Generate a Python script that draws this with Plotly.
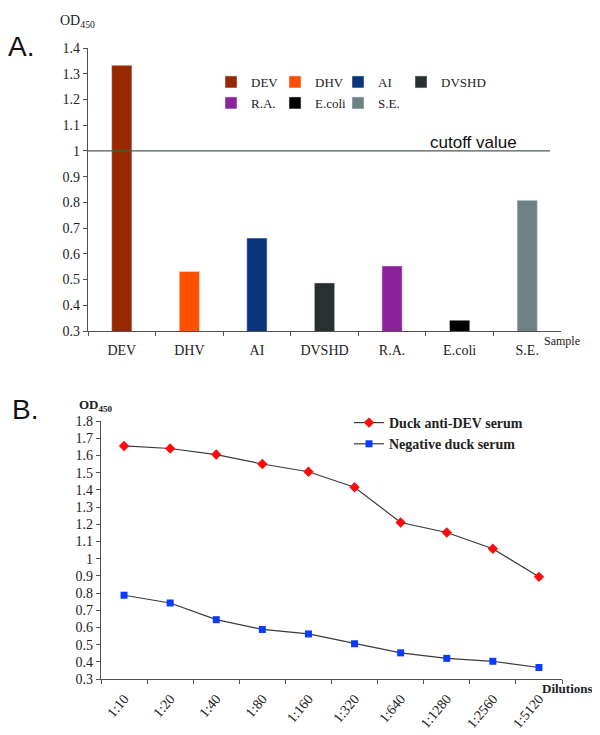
import plotly.graph_objects as go

# panel A data
samples = ['DEV', 'DHV', 'AI', 'DVSHD', 'R.A.', 'E.coli', 'S.E.']
od_samples = [1.333, 0.531, 0.661, 0.487, 0.553, 0.342, 0.808]
sample_colors = ['#962900', '#FF5000', '#0A357A', '#2A2F30', '#8E229E', '#000000', '#6E8285']
cutoff = 1.0

# panel B data
dilutions = ['1:10', '1:20', '1:40', '1:80', '1:160', '1:320', '1:640', '1:1280', '1:2560', '1:5120']
od_dev_serum = [1.655, 1.640, 1.605, 1.550, 1.505, 1.415, 1.210, 1.152, 1.057, 0.894]
od_neg_serum = [0.787, 0.742, 0.645, 0.588, 0.562, 0.505, 0.452, 0.420, 0.403, 0.367]

# the page body has an 8px margin, so the figure is drawn 8px smaller and shifted
OFF = 8
W, H = 600 - OFF, 735 - OFF
SERIF = 'Liberation Serif'
SANS = 'Liberation Sans'


def px(x):
    return (x - OFF) / W


def py(y):
    return 1 - (y - OFF) / H


fig = go.Figure()

# legend slots for the bar legend (two rows, like the original)
legend_pos = [(211, 67), (275, 67), (338, 67), (401, 67),
              (211, 88), (275, 88), (338, 88)]
legend_cfg = {}
for i, (s, v, c) in enumerate(zip(samples, od_samples, sample_colors)):
    lid = 'legend' if i == 0 else 'legend%d' % (i + 1)
    fig.add_trace(go.Bar(
        x=[s], y=[v], name=s, marker_color=c, width=0.3,
        xaxis='x', yaxis='y', legend=lid, showlegend=True,
    ))
    lx, ly = legend_pos[i]
    legend_cfg[lid] = dict(x=px(lx), y=py(ly), xanchor='left', yanchor='top',
                           bgcolor='rgba(0,0,0,0)', itemwidth=30,
                           font=dict(family=SERIF, size=13, color='#222'))

fig.add_trace(go.Scatter(
    x=dilutions, y=od_dev_serum, name='Duck anti-DEV serum',
    mode='lines+markers', xaxis='x2', yaxis='y2', legend='legend8',
    line=dict(color='#3a3a3a', width=1.2),
    marker=dict(symbol='diamond', size=8, color='#FF0A0A'),
))
fig.add_trace(go.Scatter(
    x=dilutions, y=od_neg_serum, name='Negative duck serum',
    mode='lines+markers', xaxis='x2', yaxis='y2', legend='legend8',
    line=dict(color='#3a3a3a', width=1.2),
    marker=dict(symbol='square', size=7, color='#0A3CFF'),
))
legend_cfg['legend8'] = dict(orientation='v', x=px(349), y=py(407), xanchor='left', yanchor='top',
                             bgcolor='rgba(0,0,0,0)', tracegroupgap=4, itemwidth=30,
                             font=dict(family=SERIF, size=14, color='#222', weight='bold'))

axis_common = dict(showline=True, linecolor='#505050', linewidth=1.2,
                   ticks='outside', ticklen=4, tickcolor='#505050',
                   showgrid=False, zeroline=False,
                   tickfont=dict(family=SERIF, size=14, color='#222'))

fig.update_layout(
    width=W, height=H,
    showlegend=True,
    margin=dict(l=0, r=0, t=0, b=0, autoexpand=False),
    paper_bgcolor='white', plot_bgcolor='white',
    xaxis=dict(domain=[px(88), px(561)], anchor='y', range=[-0.5, 6.5],
               tickson='boundaries', tickangle=0, ticklabelstandoff=6, **axis_common),
    yaxis=dict(domain=[py(331), py(48)], anchor='x', range=[0.3, 1.4],
               dtick=0.1, tickformat='~g', **axis_common),
    xaxis2=dict(domain=[px(101), px(562)], anchor='y2', range=[-0.5, 9.5],
                tickson='boundaries', tickangle=-50, ticklabelstandoff=5, **axis_common),
    yaxis2=dict(domain=[py(679), py(421)], anchor='x2', range=[0.3, 1.8],
                dtick=0.1, tickformat='~g', **axis_common),
    **legend_cfg,
)

fig.add_shape(type='line', xref='paper', yref='y', x0=px(88), x1=px(550),
              y0=cutoff, y1=cutoff, line=dict(color='#4a5858', width=1.2))

annots = [
    dict(text='cutoff value', x=px(428), y=cutoff, xref='paper', yref='y',
         xanchor='left', yanchor='bottom', yshift=-3,
         font=dict(family=SANS, size=17, color='#111')),
    dict(text='A.', x=px(6), y=py(46), xanchor='left', yanchor='middle',
         font=dict(family=SANS, size=28, color='#111')),
    dict(text='OD<sub>450</sub>', x=px(58), y=py(22), xanchor='left', yanchor='middle',
         font=dict(family=SERIF, size=14, color='#222')),
    dict(text='Sample', x=px(542), y=py(341), xanchor='left', yanchor='middle',
         font=dict(family=SERIF, size=12, color='#222')),
    dict(text='B.', x=px(10), y=py(409), xanchor='left', yanchor='middle',
         font=dict(family=SANS, size=28, color='#111')),
    dict(text='<b>OD<sub>450</sub></b>', x=px(77), y=py(405), xanchor='left', yanchor='middle',
         font=dict(family=SERIF, size=13, color='#222')),
    dict(text='<b>Dilutions</b>', x=px(540), y=py(688), xanchor='left', yanchor='middle',
         font=dict(family=SERIF, size=13, color='#222')),
]
for a in annots:
    a.setdefault('xref', 'paper')
    a.setdefault('yref', 'paper')
    fig.add_annotation(showarrow=False, **a)

fig.write_html('out.html')
